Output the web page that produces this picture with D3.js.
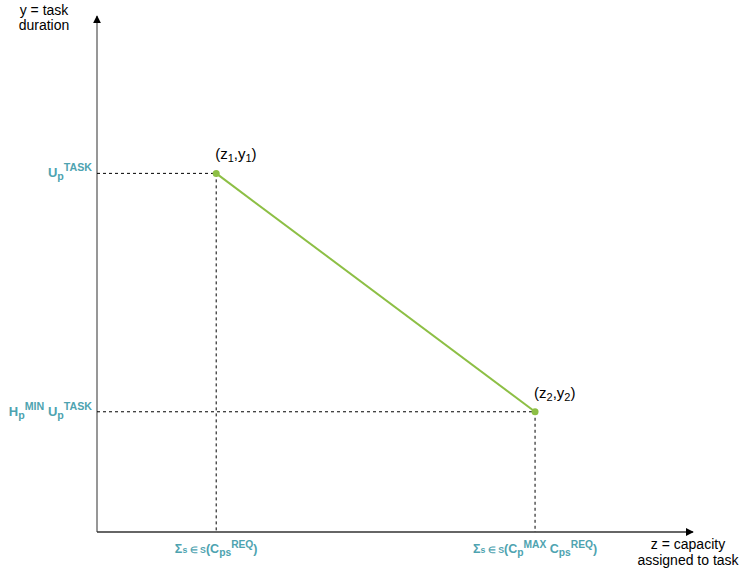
<!DOCTYPE html>
<html>
<head>
<meta charset="utf-8">
<script src="https://cdn.jsdelivr.net/npm/d3@7"></script>
<style>
  html, body { margin: 0; padding: 0; background: #fff; }
  svg { display: block; font-family: "Liberation Sans", Arial, Helvetica, sans-serif; }
</style>
</head>
<body>
<svg id="chart" width="739" height="575"></svg>
<script>
// Breakpoints of the piecewise duration function (abstract units)
const zValues = [2.0, 7.35];
const yValues = [6.95, 2.33];
const pointLabels = [["z", "1", "y", "1"], ["z", "2", "y", "2"]];

// Tick labels: arrays of [text, role] where role is base / sub / sup / small
const yTickLabels = [
  [["U", "base"], ["p", "sub"], ["TASK", "sup"]],
  [["H", "base"], ["p", "sub"], ["MIN", "sup"], [" U", "base"], ["p", "sub"], ["TASK", "sup"]]
];
const xTickLabels = [
  [["Σ", "base"], ["s ∈ S", "small"], ["(C", "base"], ["ps", "sub"], ["REQ", "sup"], [")", "base"]],
  [["Σ", "base"], ["s ∈ S", "small"], ["(C", "base"], ["p", "sub"], ["MAX", "sup"], [" C", "base"], ["ps", "sub"], ["REQ", "sup"], [")", "base"]]
];
const yAxisTitle = ["y = task", "duration"];
const xAxisTitle = ["z = capacity", "assigned to task"];

const svg = d3.select("#chart");
const x = d3.scaleLinear().domain([0, 10]).range([97, 693]);
const y = d3.scaleLinear().domain([0, 10]).range([532, 16]);

const teal = "#4ea3b0";
const green = "#8dbf45";

// arrow markers
const defs = svg.append("defs");
defs.append("marker").attr("id", "arrow")
  .attr("viewBox", "0 0 10 10").attr("refX", 9).attr("refY", 5)
  .attr("markerWidth", 8).attr("markerHeight", 8).attr("markerUnits", "userSpaceOnUse")
  .attr("orient", "auto")
  .append("path").attr("d", "M0,0 L10,5 L0,10 Z").attr("fill", "#000");

// axes
svg.append("line")
  .attr("x1", x(0)).attr("y1", y(0)).attr("x2", x(0)).attr("y2", y(10))
  .attr("stroke", "#7d7d7d").attr("stroke-width", 1.6)
  .attr("marker-end", "url(#arrow)");
svg.append("line")
  .attr("x1", x(0)).attr("y1", y(0)).attr("x2", x(10)).attr("y2", y(0))
  .attr("stroke", "#333").attr("stroke-width", 1.4)
  .attr("marker-end", "url(#arrow)");

const pts = zValues.map((z, i) => ({ z, y: yValues[i] }));

// dashed guides
pts.forEach(p => {
  svg.append("line")
    .attr("x1", x(0)).attr("y1", y(p.y)).attr("x2", x(p.z)).attr("y2", y(p.y))
    .attr("stroke", "#000").attr("stroke-width", 1).attr("stroke-dasharray", "3,3");
  svg.append("line")
    .attr("x1", x(p.z)).attr("y1", y(p.y)).attr("x2", x(p.z)).attr("y2", y(0))
    .attr("stroke", "#000").attr("stroke-width", 1).attr("stroke-dasharray", "3,3");
});

// segment
svg.append("path")
  .datum(pts)
  .attr("d", d3.line().x(d => x(d.z)).y(d => y(d.y)))
  .attr("fill", "none").attr("stroke", green).attr("stroke-width", 2);

svg.selectAll("circle.pt").data(pts).enter().append("circle")
  .attr("class", "pt")
  .attr("cx", d => x(d.z)).attr("cy", d => y(d.y)).attr("r", 3.5)
  .attr("fill", green);

// rich text helper
function rich(sel, parts, baseSize) {
  parts.forEach(([t, role]) => {
    const ts = sel.append("tspan").text(t);
    if (role === "sub") ts.attr("font-size", baseSize * 0.82).attr("baseline-shift", "-30%");
    else if (role === "sup") ts.attr("font-size", baseSize * 0.82).attr("baseline-shift", "55%");
    else if (role === "small") ts.attr("font-size", baseSize * 0.7);
    else ts.attr("font-size", baseSize);
  });
}

// y tick labels
yTickLabels.forEach((parts, i) => {
  const t = svg.append("text")
    .attr("x", x(0) - 5).attr("y", y(yValues[i]) + 4)
    .attr("text-anchor", "end").attr("fill", teal).attr("font-weight", "bold");
  rich(t, parts, 13);
});

// x tick labels
xTickLabels.forEach((parts, i) => {
  const t = svg.append("text")
    .attr("x", x(zValues[i])).attr("y", y(0) + 21)
    .attr("text-anchor", "middle").attr("fill", teal).attr("font-weight", "bold");
  rich(t, parts, 12.5);
});

// point labels
pointLabels.forEach((lab, i) => {
  const t = svg.append("text")
    .attr("x", x(zValues[i]) - 1).attr("y", y(yValues[i]) - 14)
    .attr("fill", "#000").attr("font-size", 15);
  t.append("tspan").text("(" + lab[0]);
  t.append("tspan").text(lab[1]).attr("font-size", 11).attr("baseline-shift", "-25%");
  t.append("tspan").text("," + lab[2]);
  t.append("tspan").text(lab[3]).attr("font-size", 11).attr("baseline-shift", "-25%");
  t.append("tspan").text(")");
});

// axis titles
svg.append("text").attr("x", 44).attr("y", 15).attr("text-anchor", "middle")
  .attr("font-size", 14).attr("fill", "#000")
  .selectAll("tspan").data(yAxisTitle).enter().append("tspan")
  .attr("x", 44).attr("dy", (d, i) => i ? 15 : 0).text(d => d);

svg.append("text").attr("x", 688).attr("y", 549).attr("text-anchor", "middle")
  .attr("font-size", 14).attr("fill", "#000")
  .selectAll("tspan").data(xAxisTitle).enter().append("tspan")
  .attr("x", 688).attr("dy", (d, i) => i ? 16 : 0).text(d => d);
</script>
</body>
</html>
